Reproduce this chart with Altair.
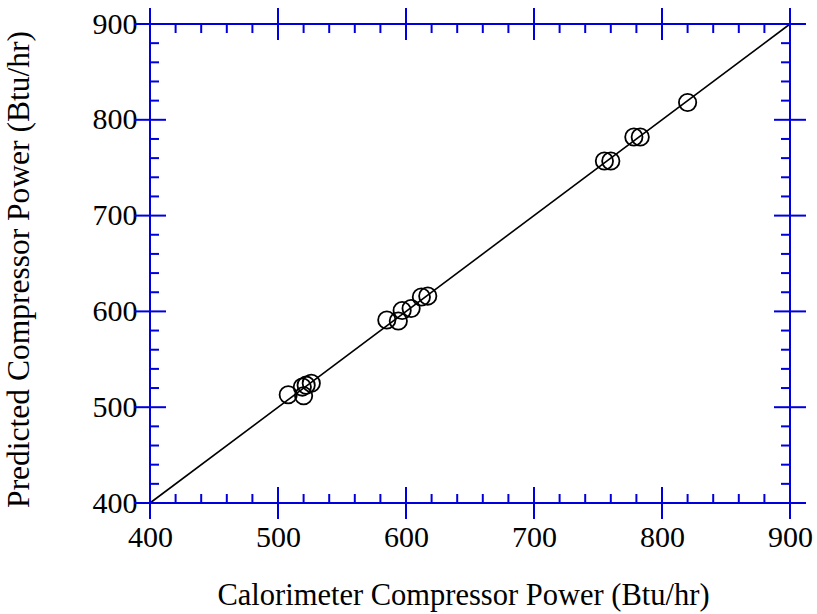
import altair as alt
import pandas as pd

# Calorimeter-measured vs. model-predicted compressor power (Btu/hr)
calorimeter = [508, 520, 519, 522, 526, 585, 594, 597, 604, 612, 617, 755, 760, 778, 783, 820]
predicted = [513, 512, 521, 523, 525, 591, 590, 601, 603, 615, 616, 757, 757, 782, 782, 818]

# Axis range, major and minor tick positions
axis_range = [400, 900]
major_ticks = [400, 500, 600, 700, 800, 900]
minor_ticks = [v for v in range(400, 901, 20) if v % 100 != 0]

W, H = 640, 479
BLUE = "#0000dd"
FONT = "Liberation Serif"
MAJ, MIN = 16, 9

points = pd.DataFrame({"x": calorimeter, "y": predicted})
diag = pd.DataFrame({"x": axis_range, "y": axis_range})
majors = pd.DataFrame({"x": major_ticks, "y": major_ticks})
minors = pd.DataFrame({"x": minor_ticks, "y": minor_ticks})

xs = alt.Scale(domain=axis_range, nice=False, zero=False)
ys = alt.Scale(domain=axis_range, nice=False, zero=False)

x_axis = alt.Axis(values=major_ticks, title="Calorimeter Compressor Power (Btu/hr)",
                  domain=False, ticks=False, tickSize=0, grid=False, labelFlush=False,
                  labelFont=FONT, labelFontSize=30, labelColor="black", labelPadding=19,
                  titleFont=FONT, titleFontSize=30.5, titleFontWeight="normal",
                  titleColor="black", titlePadding=28, titleX=313)
y_axis = alt.Axis(values=major_ticks, title="Predicted Compressor Power (Btu/hr)",
                  domain=False, ticks=False, tickSize=0, grid=False, labelFlush=False,
                  labelFont=FONT, labelFontSize=30, labelColor="black", labelPadding=13,
                  titleFont=FONT, titleFontSize=31.5, titleFontWeight="normal",
                  titleColor="black", titlePadding=57, titleY=245)

X = alt.X("x:Q", scale=xs, axis=x_axis)
Y = alt.Y("y:Q", scale=ys, axis=y_axis)

line = alt.Chart(diag).mark_line(color="black", strokeWidth=1.6).encode(x=X, y=Y)

pts = alt.Chart(points).mark_point(shape="circle", filled=False, size=300,
                                   color="black", strokeWidth=1.8, opacity=1).encode(x=X, y=Y)


def xticks(df, y0, y1):
    return alt.Chart(df).mark_rule(color=BLUE, strokeWidth=2).encode(
        x=X, y=alt.value(y0), y2=alt.value(y1))


def yticks(df, x0, x1):
    return alt.Chart(df).mark_rule(color=BLUE, strokeWidth=2).encode(
        y=Y, x=alt.value(x0), x2=alt.value(x1))


ticks = [
    xticks(majors, H - MAJ, H + MAJ), xticks(majors, -MAJ, MAJ),
    yticks(majors, -MAJ, MAJ), yticks(majors, W - MAJ, W + MAJ),
    xticks(minors, H - MIN, H), xticks(minors, 0, MIN),
    yticks(minors, 0, MIN), yticks(minors, W - MIN, W),
]

chart = alt.layer(line, pts, *ticks).properties(
    width=W, height=H,
    autosize=alt.AutoSizeParams(type="none"),
    padding={"left": 150, "top": 24, "right": 27, "bottom": 111},
    background="white",
).configure_view(stroke=BLUE, strokeWidth=2)

chart.save("out.html", embed_options={"renderer": "svg", "actions": False})
